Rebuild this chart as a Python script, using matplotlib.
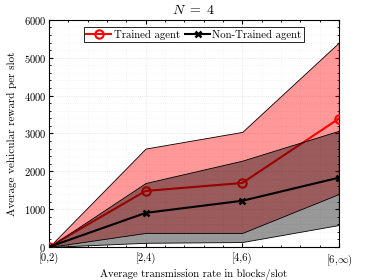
import matplotlib
matplotlib.use("Agg")
import matplotlib.pyplot as plt
from matplotlib.ticker import MultipleLocator

plt.rcParams['font.family'] = 'serif'
plt.rcParams['font.serif'] = ['cmr10']
plt.rcParams['mathtext.fontset'] = 'cm'
plt.rcParams['axes.formatter.use_mathtext'] = True

# data
xlabels = ['[0,2)', '[2,4)', '[4,6)', r'[6,$\infty$)']
trained_mean = [0, 1480, 1690, 3390]
trained_low = [0, 370, 370, 1400]
trained_high = [0, 2600, 3040, 5400]
untrained_mean = [0, 900, 1220, 1830]
untrained_low = [0, 110, 130, 580]
untrained_high = [0, 1690, 2280, 3070]

x = list(range(len(xlabels)))

fig = plt.figure(figsize=(3.74, 2.8), dpi=100)
ax = fig.add_axes([0.131, 0.118, 0.775, 0.811])

ax.fill_between(x, trained_low, trained_high, facecolor=(1, 0, 0, 0.4),
                edgecolor='black', linewidth=0.6, zorder=2)
ax.plot(x, trained_mean, color='red', lw=1.5, marker='o', ms=6,
        mfc='none', mew=1.5, label='Trained agent', zorder=3)
ax.fill_between(x, untrained_low, untrained_high, facecolor=(0, 0, 0, 0.4),
                edgecolor='black', linewidth=0.6, zorder=4)
ax.plot(x, untrained_mean, color='black', lw=1.5, marker='x', ms=4.5,
        mew=1.8, label='Non-Trained agent', zorder=5)

ax.set_xlim(0, 3)
ax.set_ylim(0, 6000)
ax.set_xticks(x)
ax.set_xticklabels(xlabels)
ax.xaxis.set_minor_locator(MultipleLocator(0.2))
ax.yaxis.set_major_locator(MultipleLocator(1000))
ax.yaxis.set_minor_locator(MultipleLocator(200))
ax.tick_params(which='both', direction='in', top=True, right=True, labelsize=7.6)
ax.tick_params(axis='x', pad=4)
ax.tick_params(axis='y', pad=2)
ax.tick_params(which='minor', length=1.5)
ax.tick_params(which='major', length=3)
ax.grid(which='major', color='#dddddd', linestyle=':', linewidth=0.6)
ax.grid(which='minor', color='#eeeeee', linestyle=':', linewidth=0.5)
ax.set_axisbelow(True)

ax.set_title('$N\\ =\\ 4$', fontsize=10, pad=4)
ax.set_xlabel('Average transmission rate in blocks/slot', fontsize=7.7, labelpad=1)
ax.set_ylabel('Average vehicular reward per slot', fontsize=8, labelpad=5)

leg = ax.legend(loc='upper center', ncol=2, fontsize=7.8, frameon=True,
                fancybox=False, edgecolor='black', framealpha=1,
                handlelength=2.3, columnspacing=0.5, handletextpad=0.2,
                borderpad=0.2, borderaxespad=0.7, bbox_to_anchor=(0.5, 1.0))
leg.get_frame().set_linewidth(0.6)

fig.savefig('out.png', dpi=100)
